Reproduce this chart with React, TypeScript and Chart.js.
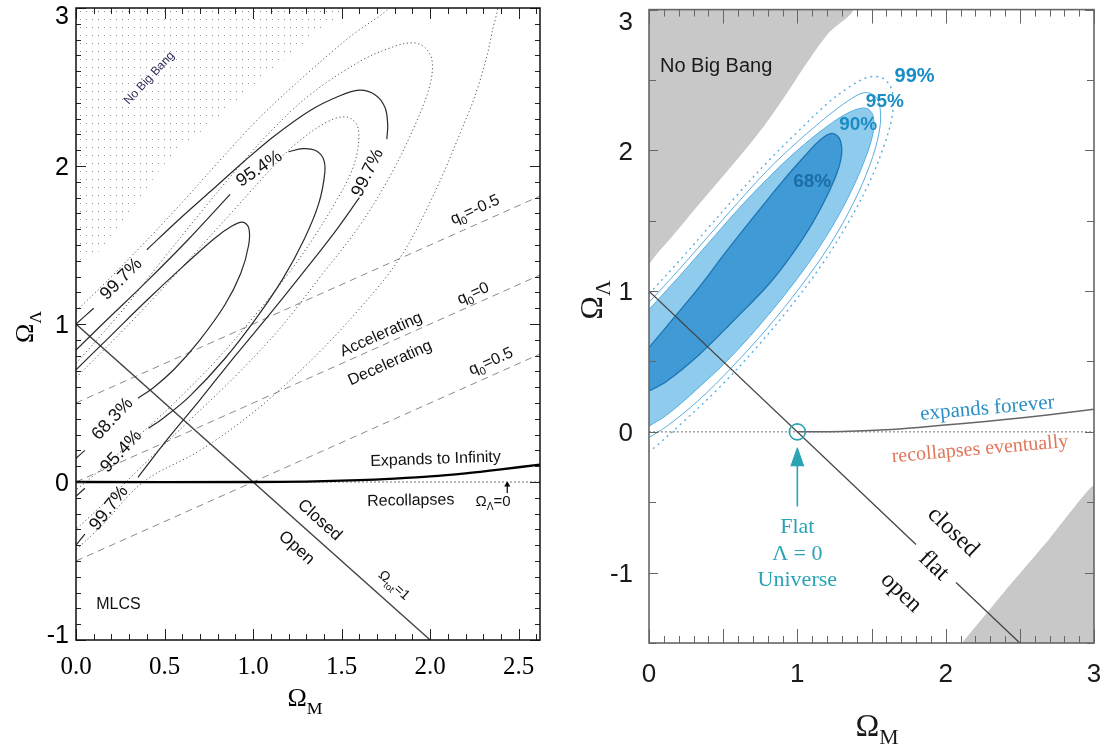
import React, { useEffect, useRef } from 'react';
import { Chart, registerables } from 'chart.js';

Chart.register(...registerables);

type Pt = [number, number];

/* ================= LEFT PANEL (MLCS) ================= */
const L_X_MIN = 0;
const L_X_MAX = 2.62;
const L_Y_MIN = -1;
const L_Y_MAX = 3;
const L_X_TICK_VALUES = [0, 0.5, 1, 1.5, 2, 2.5];
const L_X_TICK_LABELS = ['0.0', '0.5', '1.0', '1.5', '2.0', '2.5'];
const L_Y_TICK_VALUES = [-1, 0, 1, 2, 3];
const L_Y_TICK_LABELS = ['-1', '0', '1', '2', '3'];

const L_NO_BIG_BANG: Pt[] = [
  [0, 3], [1.52, 3], [1.5, 2.96], [1.3, 2.79], [1.14, 2.64], [0.93, 2.44], [0.73, 2.24],
  [0.6, 2.12], [0.49, 2.0], [0.35, 1.78], [0.21, 1.55], [0.14, 1.47], [0.06, 1.41], [0, 1.38],
];

// solid MLCS contours (split where labels interrupt them)
const L_S997_A: Pt[] = [[0, 1.0], [0.1, 1.1]];
const L_S997_B: Pt[] = [
  [0.4, 1.47], [0.58, 1.66], [0.76, 1.84], [0.95, 2.03], [1.12, 2.19], [1.32, 2.35], [1.48, 2.44],
  [1.6, 2.48], [1.69, 2.45], [1.745, 2.37], [1.76, 2.26], [1.755, 2.17],
];
const L_S997_C: Pt[] = [
  [1.6, 1.8], [1.46, 1.58], [1.3, 1.35], [1.1, 1.07], [0.9, 0.8], [0.7, 0.52], [0.53, 0.29], [0.35, 0.03],
];
const L_S997_D: Pt[] = [[0.05, -0.33], [0, -0.4]];

const L_S954_A: Pt[] = [[0, 0.835], [0.15, 1.0], [0.4, 1.27], [0.63, 1.53], [0.87, 1.82]];
const L_S954_B: Pt[] = [
  [1.2, 2.09], [1.28, 2.11], [1.35, 2.1], [1.395, 2.05], [1.405, 1.96], [1.37, 1.76], [1.29, 1.54],
  [1.17, 1.29], [1.02, 1.04], [0.84, 0.78], [0.64, 0.54], [0.5, 0.41], [0.41, 0.34],
];
const L_S954_C: Pt[] = [[0.05, -0.04], [0, -0.09]];

const L_S683_A: Pt[] = [
  [0, 0.71], [0.2, 0.93], [0.4, 1.15], [0.6, 1.36], [0.78, 1.54], [0.88, 1.62], [0.94, 1.645],
  [0.975, 1.61], [0.975, 1.5], [0.93, 1.32], [0.84, 1.12], [0.7, 0.9], [0.56, 0.72], [0.44, 0.6], [0.35, 0.53],
];
const L_S683_B: Pt[] = [[0.05, 0.2], [0, 0.15]];

// dotted contours
const L_D1: Pt[] = [
  [0, 0.66], [0.3, 1.0], [0.6, 1.36], [0.89, 1.72], [1.1, 1.98], [1.23, 2.13], [1.42, 2.28],
  [1.53, 2.31], [1.59, 2.25], [1.59, 2.1], [1.55, 1.95], [1.47, 1.78], [1.35, 1.56], [1.2, 1.32],
  [1.0, 1.04], [0.8, 0.78], [0.6, 0.55], [0.45, 0.39], [0.3, 0.24], [0.12, 0.06], [0, -0.05],
];
const L_D2: Pt[] = [
  [0, 0.75], [0.25, 1.07], [0.47, 1.38], [0.7, 1.7], [0.9, 1.97], [1.1, 2.22], [1.32, 2.45],
  [1.6, 2.66], [1.78, 2.75], [1.9, 2.78], [1.97, 2.75], [2.01, 2.67], [2.0, 2.52], [1.93, 2.3],
  [1.78, 1.95], [1.6, 1.62], [1.38, 1.3], [1.15, 0.97], [0.9, 0.67], [0.65, 0.4], [0.4, 0.13],
  [0.2, -0.09], [0, -0.3],
];
const L_D3: Pt[] = [
  [0, 1.08], [0.2, 1.3], [0.4, 1.53], [0.6, 1.77], [0.8, 2.02], [1.04, 2.31], [1.3, 2.58],
  [1.55, 2.82], [1.75, 2.98], [1.82, 3.06], [2.36, 3.06], [2.35, 2.85], [2.27, 2.5], [2.17, 2.21],
  [2.02, 1.82], [1.83, 1.42], [1.58, 1.07], [1.3, 0.74], [1.0, 0.44], [0.7, 0.2], [0.38, 0.0],
  [0.15, -0.27], [0, -0.43],
];

const L_Q_NEG: Pt[] = [[0, 0.5], [2.62, 1.81]];
const L_Q_ZERO: Pt[] = [[0, 0], [2.62, 1.31]];
const L_Q_POS: Pt[] = [[0, -0.5], [2.62, 0.81]];
const L_OMEGA_TOT: Pt[] = [[0, 1], [2, -1]];
const L_EXPAND: Pt[] = [
  [0, 0], [1.0, 0], [1.3, 0.003], [1.6, 0.012], [1.8, 0.022], [2.0, 0.035], [2.2, 0.055], [2.4, 0.08], [2.62, 0.11],
];
const L_LAMBDA_ZERO: Pt[] = [[1.3, 0], [2.62, 0]];
const L_ARROW_SHAFT: Pt[] = [[2.435, -0.07], [2.435, -0.015]];
const L_ARROW_HEAD: Pt[] = [[2.421, -0.028], [2.435, 0.0], [2.449, -0.028]];

/* ================= RIGHT PANEL ================= */
const R_X_MIN = 0;
const R_X_MAX = 3;
const R_Y_MIN = -1.5;
const R_Y_MAX = 3;
const R_X_TICK_VALUES = [0, 1, 2, 3];
const R_X_TICK_LABELS = ['0', '1', '2', '3'];
const R_Y_TICK_VALUES = [-1, 0, 1, 2, 3];
const R_Y_TICK_LABELS = ['-1', '0', '1', '2', '3'];

const R_NO_BIG_BANG: Pt[] = [
  [0, 3], [1.36, 3], [1.2, 2.82], [1.05, 2.6], [0.9, 2.36], [0.73, 2.11], [0.55, 1.88], [0.34, 1.62],
  [0.15, 1.38], [0.05, 1.26], [0, 1.19],
];
const R_GRAY_LOWER: Pt[] = [[2.11, -1.5], [2.4, -1.13], [2.7, -0.76], [3.0, -0.38], [3.0, -1.5]];

const R_C99: Pt[] = [
  [0, 0.98], [0.2, 1.21], [0.4, 1.45], [0.6, 1.69], [0.8, 1.92], [1.0, 2.13], [1.2, 2.33], [1.35, 2.45],
  [1.48, 2.52], [1.58, 2.51], [1.64, 2.42], [1.64, 2.25], [1.58, 2.02], [1.48, 1.76], [1.34, 1.48],
  [1.16, 1.18], [0.94, 0.87], [0.7, 0.57], [0.46, 0.3], [0.24, 0.08], [0.05, -0.1], [0, -0.14],
];
const R_C95: Pt[] = [
  [0, 0.92], [0.2, 1.15], [0.4, 1.39], [0.6, 1.63], [0.8, 1.86], [1.0, 2.06], [1.2, 2.24], [1.34, 2.35],
  [1.45, 2.41], [1.53, 2.38], [1.56, 2.28], [1.55, 2.12], [1.49, 1.9], [1.38, 1.63], [1.22, 1.33],
  [1.02, 1.03], [0.8, 0.74], [0.56, 0.46], [0.33, 0.22], [0.12, 0.04], [0, -0.04],
];
const R_C90: Pt[] = [
  [0, 0.87], [0.2, 1.1], [0.4, 1.34], [0.6, 1.58], [0.8, 1.8], [1.0, 2.0], [1.2, 2.17], [1.35, 2.27],
  [1.46, 2.3], [1.51, 2.25], [1.51, 2.12], [1.45, 1.92], [1.34, 1.66], [1.19, 1.38], [1.0, 1.09],
  [0.78, 0.8], [0.55, 0.53], [0.32, 0.3], [0.12, 0.12], [0, 0.04],
];
const R_C68: Pt[] = [
  [0, 0.6], [0.12, 0.75], [0.34, 1.03], [0.52, 1.28], [0.7, 1.52], [0.9, 1.78], [1.05, 1.96], [1.15, 2.07],
  [1.23, 2.12], [1.28, 2.09], [1.3, 2.0], [1.28, 1.88], [1.22, 1.72], [1.1, 1.48], [0.95, 1.24],
  [0.8, 1.04], [0.57, 0.79], [0.34, 0.55], [0.12, 0.36], [0, 0.29],
];
const R_FLAT_A: Pt[] = [[0, 1], [1.8, -0.8]];
const R_FLAT_B: Pt[] = [[2.07, -1.07], [2.5, -1.5]];
const R_ZERO: Pt[] = [[0, 0], [3, 0]];
const R_EXPAND: Pt[] = [
  [1.0, 0], [1.3, 0.002], [1.6, 0.015], [1.85, 0.035], [2.1, 0.058], [2.4, 0.088], [2.7, 0.122], [3.0, 0.16],
];
const R_CIRCLE: Pt[] = [[1, 0]];
const R_ARROW_SHAFT: Pt[] = [[1, -0.53], [1, -0.2]];
const R_ARROW_HEAD: Pt[] = [[0.956, -0.245], [1.0, -0.113], [1.044, -0.245]];

/* ================= helpers ================= */
const SANS = '"Liberation Sans", Arial, sans-serif';
const SERIF = '"Liberation Serif", "Times New Roman", serif';

interface Txt {
  t: string; x: number; y: number; rot?: number; size: number;
  family?: string; color?: string; weight?: string; align?: 'left' | 'center' | 'right';
}

function drawRich(ctx: CanvasRenderingContext2D, text: string, x: number, y: number, o: {
  size: number; family: string; color?: string; weight?: string; rot?: number; align?: string;
}) {
  const parts: { s: string; sub: boolean }[] = [];
  const re = /_\{([^}]*)\}/g;
  let last = 0;
  let m: RegExpExecArray | null;
  while ((m = re.exec(text))) {
    if (m.index > last) parts.push({ s: text.slice(last, m.index), sub: false });
    parts.push({ s: m[1], sub: true });
    last = re.lastIndex;
  }
  if (last < text.length) parts.push({ s: text.slice(last), sub: false });
  const w8 = o.weight || 'normal';
  const main = `${w8} ${o.size}px ${o.family}`;
  const sub = `${w8} ${o.size * 0.68}px ${o.family}`;
  let w = 0;
  const ws = parts.map((p) => {
    ctx.font = p.sub ? sub : main;
    const ww = ctx.measureText(p.s).width;
    w += ww;
    return ww;
  });
  ctx.save();
  ctx.translate(x, y);
  ctx.rotate(((o.rot || 0) * Math.PI) / 180);
  ctx.fillStyle = o.color || '#000';
  ctx.textBaseline = 'alphabetic';
  ctx.textAlign = 'left';
  let cx = o.align === 'left' ? 0 : o.align === 'right' ? -w : -w / 2;
  const base = o.size * 0.36;
  parts.forEach((p, i) => {
    ctx.font = p.sub ? sub : main;
    ctx.fillText(p.s, cx, base + (p.sub ? o.size * 0.28 : 0));
    cx += ws[i];
  });
  ctx.restore();
}

interface TickSpec { step: number; majorStep: number; minorLen: number; majorLen: number }
interface DecoCfg {
  id: string;
  frameColor: string; frameWidth: number; tickColor: string;
  xt: TickSpec; yt: TickSpec;
  xTickValues: number[]; xTickLabels: string[]; xLabelFamily: string; xLabelSize: number; xLabelGap: number;
  yTickValues: number[]; yTickLabels: string[]; yLabelFamily: string; yLabelSize: number; yLabelGap: number;
  yTopShift: number; yBottomShift: number; labelColor: string;
  xTitle: { t: string; px: number; py: number; size: number };
  yTitle: { t: string; px: number; py: number; size: number };
  texts: Txt[]; textFamily: string;
}

function makeDeco(cfg: DecoCfg) {
  return {
    id: cfg.id,
    afterDatasetsDraw(chart: any) {
      const ctx = chart.ctx as CanvasRenderingContext2D;
      const xs = chart.scales.x;
      const ys = chart.scales.y;
      const a = chart.chartArea;
      const each = (min: number, max: number, step: number, fn: (v: number) => void) => {
        const n0 = Math.ceil(min / step - 1e-6);
        const n1 = Math.floor(max / step + 1e-6);
        for (let i = n0; i <= n1; i++) fn(i * step);
      };
      const isMajor = (v: number, m: number) => Math.abs(v / m - Math.round(v / m)) < 1e-6;
      ctx.save();
      cfg.texts.forEach((t) => {
        drawRich(ctx, t.t, xs.getPixelForValue(t.x), ys.getPixelForValue(t.y), {
          size: t.size, family: t.family || cfg.textFamily, color: t.color || '#111',
          weight: t.weight, rot: t.rot, align: t.align,
        });
      });
      ctx.strokeStyle = cfg.tickColor;
      ctx.lineWidth = 1;
      ctx.beginPath();
      each(xs.min, xs.max, cfg.xt.step, (v) => {
        const p = Math.round(xs.getPixelForValue(v)) + 0.5;
        const L = isMajor(v, cfg.xt.majorStep) ? cfg.xt.majorLen : cfg.xt.minorLen;
        ctx.moveTo(p, a.bottom); ctx.lineTo(p, a.bottom - L);
        ctx.moveTo(p, a.top); ctx.lineTo(p, a.top + L);
      });
      each(ys.min, ys.max, cfg.yt.step, (v) => {
        const p = Math.round(ys.getPixelForValue(v)) + 0.5;
        const L = isMajor(v, cfg.yt.majorStep) ? cfg.yt.majorLen : cfg.yt.minorLen;
        ctx.moveTo(a.left, p); ctx.lineTo(a.left + L, p);
        ctx.moveTo(a.right, p); ctx.lineTo(a.right - L, p);
      });
      ctx.stroke();
      ctx.strokeStyle = cfg.frameColor;
      ctx.lineWidth = cfg.frameWidth;
      ctx.strokeRect(a.left, a.top, a.right - a.left, a.bottom - a.top);
      cfg.xTickValues.forEach((v, i) => {
        drawRich(ctx, cfg.xTickLabels[i], xs.getPixelForValue(v), a.bottom + cfg.xLabelGap, {
          size: cfg.xLabelSize, family: cfg.xLabelFamily, color: cfg.labelColor,
        });
      });
      cfg.yTickValues.forEach((v, i) => {
        let py = ys.getPixelForValue(v);
        if (v === ys.max) py += cfg.yTopShift;
        if (v === ys.min) py += cfg.yBottomShift;
        drawRich(ctx, cfg.yTickLabels[i], a.left - cfg.yLabelGap, py, {
          size: cfg.yLabelSize, family: cfg.yLabelFamily, color: cfg.labelColor, align: 'right',
        });
      });
      drawRich(ctx, cfg.xTitle.t, cfg.xTitle.px, cfg.xTitle.py, { size: cfg.xTitle.size, family: SERIF, color: cfg.labelColor });
      drawRich(ctx, cfg.yTitle.t, cfg.yTitle.px, cfg.yTitle.py, { size: cfg.yTitle.size, family: SERIF, color: cfg.labelColor, rot: -90 });
      ctx.restore();
    },
  };
}

const toXY = (pts: Pt[]) => pts.map(([x, y]) => ({ x, y }));
const lineDs = (pts: Pt[], o: any) => ({
  data: toXY(pts), showLine: true, pointRadius: 0, pointHoverRadius: 0, fill: false, tension: 0.35, ...o,
});

function baseOptions(xmin: number, xmax: number, ymin: number, ymax: number, pad: any, yW: number, xH: number) {
  return {
    animation: false as const,
    responsive: false,
    events: [] as any[],
    layout: { padding: pad },
    plugins: { legend: { display: false }, tooltip: { enabled: false } },
    scales: {
      x: {
        type: 'linear' as const, min: xmin, max: xmax, grid: { display: false }, border: { display: false },
        ticks: { display: false }, afterFit: (s: any) => { s.height = xH; },
      },
      y: {
        type: 'linear' as const, min: ymin, max: ymax, grid: { display: false }, border: { display: false },
        ticks: { display: false }, afterFit: (s: any) => { s.width = yW; },
      },
    },
  };
}

function stipplePattern(): CanvasPattern | string {
  const c = document.createElement('canvas');
  c.width = 6; c.height = 8;
  const g = c.getContext('2d');
  if (!g) return '#ddd';
  g.fillStyle = 'rgba(40,40,40,0.5)';
  g.fillRect(2, 3, 1, 1);
  return g.createPattern(c, 'repeat') || '#ddd';
}

function makeLeft(canvas: HTMLCanvasElement) {
  const SOLID = { borderColor: '#2a2a2a', borderWidth: 1.2, order: 1 };
  const DOT = { borderColor: '#555', borderWidth: 1, borderDash: [1.2, 2.6], order: 2 };
  const DASH = { borderColor: '#8a8a8a', borderWidth: 1, borderDash: [7, 5], tension: 0, order: 3 };
  const datasets: any[] = [
    lineDs(L_NO_BIG_BANG, { fill: 'shape', backgroundColor: stipplePattern(), borderWidth: 0, borderColor: 'rgba(0,0,0,0)', tension: 0.2, order: 10 }),
    lineDs(L_S997_A, SOLID), lineDs(L_S997_B, SOLID), lineDs(L_S997_C, SOLID), lineDs(L_S997_D, SOLID),
    lineDs(L_S954_A, SOLID), lineDs(L_S954_B, SOLID), lineDs(L_S954_C, SOLID),
    lineDs(L_S683_A, SOLID), lineDs(L_S683_B, SOLID),
    lineDs(L_D1, DOT), lineDs(L_D2, DOT), lineDs(L_D3, DOT),
    lineDs(L_Q_NEG, DASH), lineDs(L_Q_ZERO, DASH), lineDs(L_Q_POS, DASH),
    lineDs(L_OMEGA_TOT, { borderColor: '#444', borderWidth: 1.4, tension: 0, order: 1 }),
    lineDs(L_LAMBDA_ZERO, { borderColor: '#444', borderWidth: 1, borderDash: [1.5, 2.5], tension: 0, order: 2 }),
    lineDs(L_EXPAND, { borderColor: '#000', borderWidth: 2.3, tension: 0.3, order: 0 }),
    lineDs(L_ARROW_SHAFT, { borderColor: '#000', borderWidth: 1.2, tension: 0, order: 0 }),
    lineDs(L_ARROW_HEAD, { borderColor: '#000', borderWidth: 1, backgroundColor: '#000', fill: 'shape', tension: 0, order: 0 }),
  ];
  const texts: Txt[] = [
    { t: 'No Big Bang', x: 0.41, y: 2.56, rot: -47, size: 12, color: '#30305a' },
    { t: '99.7%', x: 0.25, y: 1.29, rot: -45, size: 18 },
    { t: '95.4%', x: 1.03, y: 1.99, rot: -34, size: 18 },
    { t: '99.7%', x: 1.64, y: 1.96, rot: -64, size: 18 },
    { t: '68.3%', x: 0.2, y: 0.405, rot: -47, size: 18 },
    { t: '95.4%', x: 0.25, y: 0.2, rot: -47, size: 18 },
    { t: '99.7%', x: 0.18, y: -0.16, rot: -52, size: 18 },
    { t: 'q_{0}=-0.5', x: 2.25, y: 1.73, rot: -24, size: 16 },
    { t: 'q_{0}=0', x: 2.24, y: 1.2, rot: -24, size: 16 },
    { t: 'q_{0}=0.5', x: 2.34, y: 0.77, rot: -24, size: 16 },
    { t: 'Accelerating', x: 1.72, y: 0.94, rot: -24, size: 16 },
    { t: 'Decelerating', x: 1.77, y: 0.76, rot: -24, size: 16 },
    { t: 'Expands to Infinity', x: 2.03, y: 0.152, rot: -2, size: 16 },
    { t: 'Recollapses', x: 1.89, y: -0.11, rot: -1, size: 16 },
    { t: 'Ω_{Λ}=0', x: 2.355, y: -0.115, rot: 0, size: 15 },
    { t: 'Closed', x: 1.38, y: -0.235, rot: 42, size: 17 },
    { t: 'Open', x: 1.25, y: -0.41, rot: 42, size: 17 },
    { t: 'Ω_{tot}=1', x: 1.8, y: -0.65, rot: 42, size: 14 },
    { t: 'MLCS', x: 0.24, y: -0.77, rot: 0, size: 16 },
  ];
  const deco = makeDeco({
    id: 'decoLeft', frameColor: '#111', frameWidth: 1.5, tickColor: '#222',
    xt: { step: 0.1, majorStep: 0.5, minorLen: 6, majorLen: 11 },
    yt: { step: 0.1, majorStep: 1, minorLen: 5, majorLen: 10 },
    xTickValues: L_X_TICK_VALUES, xTickLabels: L_X_TICK_LABELS, xLabelFamily: SERIF, xLabelSize: 25, xLabelGap: 25,
    yTickValues: L_Y_TICK_VALUES, yTickLabels: L_Y_TICK_LABELS, yLabelFamily: SANS, yLabelSize: 25, yLabelGap: 7,
    yTopShift: 7, yBottomShift: -6, labelColor: '#000',
    xTitle: { t: 'Ω_{M}', px: 305, py: 697, size: 26 },
    yTitle: { t: 'Ω_{Λ}', px: 24, py: 327, size: 26 },
    texts, textFamily: SANS,
  });
  return new Chart(canvas, {
    type: 'scatter',
    data: { datasets },
    options: baseOptions(L_X_MIN, L_X_MAX, L_Y_MIN, L_Y_MAX, { left: 0, top: 8, right: 20, bottom: 0 }, 76, 111) as any,
    plugins: [deco],
  });
}

function makeRight(canvas: HTMLCanvasElement) {
  const BLUE_LINE = '#5aaee0';
  const TEAL = '#2aa3b5';
  const datasets: any[] = [
    lineDs(R_NO_BIG_BANG, { fill: 'shape', backgroundColor: '#c8c8c8', borderWidth: 0, borderColor: 'rgba(0,0,0,0)', order: 20 }),
    lineDs(R_GRAY_LOWER, { fill: 'shape', backgroundColor: '#c8c8c8', borderWidth: 0, borderColor: 'rgba(0,0,0,0)', tension: 0.1, order: 20 }),
    lineDs(R_C90, { fill: 'shape', backgroundColor: '#8fcbec', borderColor: BLUE_LINE, borderWidth: 1, order: 12 }),
    lineDs(R_C68, { fill: 'shape', backgroundColor: '#3f9ad5', borderColor: '#1d74b3', borderWidth: 1.3, order: 11 }),
    lineDs(R_C95, { borderColor: BLUE_LINE, borderWidth: 1, order: 5 }),
    lineDs(R_C99, { borderColor: BLUE_LINE, borderWidth: 1.4, borderDash: [2, 4], order: 5 }),
    lineDs(R_ZERO, { borderColor: '#777', borderWidth: 1, borderDash: [2, 2], tension: 0, order: 4 }),
    lineDs(R_EXPAND, { borderColor: '#666', borderWidth: 1.5, tension: 0.3, order: 3 }),
    lineDs(R_FLAT_A, { borderColor: '#444', borderWidth: 1.3, tension: 0, order: 2 }),
    lineDs(R_FLAT_B, { borderColor: '#444', borderWidth: 1.3, tension: 0, order: 2 }),
    {
      data: toXY(R_CIRCLE), showLine: false, pointRadius: 8, pointHoverRadius: 8, pointStyle: 'circle',
      pointBackgroundColor: 'rgba(0,0,0,0)', pointBorderColor: TEAL, pointBorderWidth: 1.6, order: 1,
    },
    lineDs(R_ARROW_SHAFT, { borderColor: TEAL, borderWidth: 1.6, tension: 0, order: 1 }),
    lineDs(R_ARROW_HEAD, { borderColor: TEAL, borderWidth: 1, backgroundColor: TEAL, fill: 'shape', tension: 0, order: 1 }),
  ];
  const LBL = '#1a8cc6';
  const texts: Txt[] = [
    { t: 'No Big Bang', x: 0.074, y: 2.61, size: 20, color: '#1a1a1a', align: 'left' },
    { t: '68%', x: 1.1, y: 1.79, size: 19, color: '#1c6ea6', weight: 'bold' },
    { t: '90%', x: 1.41, y: 2.19, size: 19, color: LBL, weight: 'bold' },
    { t: '95%', x: 1.59, y: 2.36, size: 19, color: LBL, weight: 'bold' },
    { t: '99%', x: 1.79, y: 2.54, size: 20, color: LBL, weight: 'bold' },
    { t: 'expands forever', x: 2.28, y: 0.18, rot: -5, size: 21, color: '#2a8fc4', family: SERIF },
    { t: 'recollapses eventually', x: 2.23, y: -0.11, rot: -5, size: 20, color: '#e0765a', family: SERIF },
    { t: 'closed', x: 2.06, y: -0.7, rot: 43.6, size: 24, family: SERIF },
    { t: 'flat', x: 1.93, y: -0.94, rot: 43.6, size: 24, family: SERIF },
    { t: 'open', x: 1.71, y: -1.13, rot: 43.6, size: 24, family: SERIF },
    { t: 'Flat', x: 1.0, y: -0.665, size: 22, color: TEAL, family: SERIF },
    { t: 'Λ = 0', x: 1.0, y: -0.856, size: 22, color: TEAL, family: SERIF },
    { t: 'Universe', x: 1.0, y: -1.04, size: 22, color: TEAL, family: SERIF },
  ];
  const deco = makeDeco({
    id: 'decoRight', frameColor: '#666', frameWidth: 1.6, tickColor: '#666',
    xt: { step: 0.1, majorStep: 0.5, minorLen: 7, majorLen: 14 },
    yt: { step: 0.5, majorStep: 1, minorLen: 7, majorLen: 9 },
    xTickValues: R_X_TICK_VALUES, xTickLabels: R_X_TICK_LABELS, xLabelFamily: SANS, xLabelSize: 26, xLabelGap: 30,
    yTickValues: R_Y_TICK_VALUES, yTickLabels: R_Y_TICK_LABELS, yLabelFamily: SANS, yLabelSize: 26, yLabelGap: 16,
    yTopShift: 11, yBottomShift: 0, labelColor: '#1a1a1a',
    xTitle: { t: 'Ω_{M}', px: 317, py: 724, size: 32 },
    yTitle: { t: 'Ω_{Λ}', px: 30, py: 300, size: 32 },
    texts, textFamily: SANS,
  });
  return new Chart(canvas, {
    type: 'scatter',
    data: { datasets },
    options: baseOptions(R_X_MIN, R_X_MAX, R_Y_MIN, R_Y_MAX, { left: 0, top: 7, right: 17, bottom: 0 }, 89, 108) as any,
    plugins: [deco],
  });
}

export default function App() {
  const leftRef = useRef<HTMLCanvasElement>(null);
  const rightRef = useRef<HTMLCanvasElement>(null);
  useEffect(() => {
    const charts: Chart[] = [];
    if (leftRef.current) charts.push(makeLeft(leftRef.current));
    if (rightRef.current) charts.push(makeRight(rightRef.current));
    return () => charts.forEach((c) => c.destroy());
  }, []);
  return (
    <div style={{ position: 'absolute', left: 0, top: 0, width: 1111, height: 751, background: '#fff', overflow: 'hidden' }}>
      <canvas ref={leftRef} width={560} height={751} style={{ position: 'absolute', left: 0, top: 0, width: 560, height: 751 }} />
      <canvas ref={rightRef} width={551} height={751} style={{ position: 'absolute', left: 560, top: 0, width: 551, height: 751 }} />
    </div>
  );
}
